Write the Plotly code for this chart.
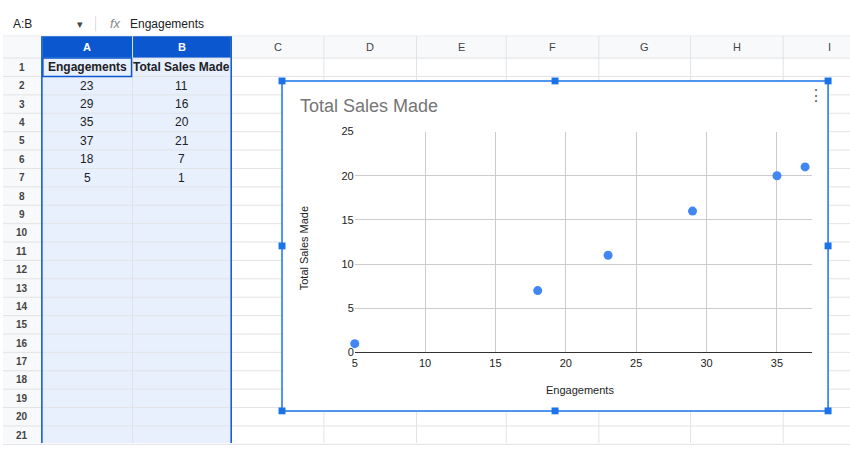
import plotly.graph_objects as go

engagements = [23, 29, 35, 37, 18, 5]
total_sales = [11, 16, 20, 21, 7, 1]
col_letters = ["A", "B", "C", "D", "E", "F", "G", "H", "I"]
header_a = "Engagements"
header_b = "Total Sales Made"

W, H = 850, 449
col_edges = [39, 130, 229, 322, 415, 505, 598, 690, 783, 876]
row_top, row_h = 53.5, 18.9
n_rows = 21


def px(x):
    return x / W


def py(y):
    return 1 - y / H


shapes = []
ann = []


def rect(x0, y0, x1, y1, fill, line=None, width=1, layer="below"):
    shapes.append(dict(type="rect", xref="paper", yref="paper", x0=px(x0), x1=px(x1),
                       y0=py(y1), y1=py(y0), fillcolor=fill, layer=layer,
                       line=dict(color=line or fill, width=width if line else 0)))


def line(x0, y0, x1, y1, color, width=1, layer="below"):
    shapes.append(dict(type="line", xref="paper", yref="paper", x0=px(x0), x1=px(x1),
                       y0=py(y0), y1=py(y1), layer=layer, line=dict(color=color, width=width)))


def text(x, y, s, size=12, color="#202124", anchor="center", bold=False, angle=0):
    ann.append(dict(xref="paper", yref="paper", x=px(x), y=py(y), text=f"<b>{s}</b>" if bold else s,
                    showarrow=False, xanchor=anchor, yanchor="middle", textangle=angle,
                    font=dict(size=size, color=color, family="Arial, Liberation Sans")))


# formula bar
rect(0, 0, W, 31, "white")
line(0, 31, W, 31, "#dadce0")
text(8, 18, "A:B", 12, anchor="left")
text(77, 18, "▾", 11, "#444")
line(93, 10, 93, 26, "#dadce0")
text(105, 18, "<i>fx</i>", 13, "#888", anchor="left")
text(125, 18, header_a, 12, anchor="left")

# header row and row numbers
rect(0, 31, W, row_top, "#f8f9fa")
rect(0, row_top, 39, H, "#f8f9fa")
rect(39, 31, 229, row_top, "#0b57d0")
rect(39, row_top, 229, H, "#e8f0fe")
for i, c in enumerate(col_letters):
    x0, x1 = col_edges[i], col_edges[i + 1]
    text((x0 + x1) / 2 if i < 8 else 829, 42, c, 11, "white" if i < 2 else "#444", bold=i < 2)
for xe in col_edges[:-1]:
    line(xe, 31, xe, H, "#e1e3e6")
for r in range(n_rows + 1):
    y = row_top + r * row_h
    line(0, y, W, y, "#e1e3e6")
for r in range(n_rows):
    text(19, row_top + (r + 0.5) * row_h, str(r + 1), 10, "#444", bold=True)
line(39, 31, 39, H, "#0b57d0", 1.5)
line(229, 31, 229, H, "#0b57d0", 1.5)
rect(40, row_top, 129, row_top + row_h, "rgba(0,0,0,0)", "#0b57d0", 1.5)

# cell contents
text(84.5, row_top + row_h / 2, header_a, 12, bold=True)
text(179.5, row_top + row_h / 2, header_b, 12, bold=True)
for r, (a, b) in enumerate(zip(engagements, total_sales)):
    yc = row_top + (r + 1.5) * row_h
    text(84.5, yc, str(a), 12)
    text(179.5, yc, str(b), 12)

# chart box
rect(280, 77, 828, 416, "white")
shapes.append(dict(type="rect", xref="paper", yref="paper", x0=px(280), x1=px(828), y0=py(416), y1=py(77),
                   line=dict(color="#1a73e8", width=1.5), layer="above"))
for hx in (280, 554, 828):
    for hy in (77, 246.5, 416):
        if hx == 554 and hy == 246.5:
            continue
        rect(hx - 3.5, hy - 3.5, hx + 3.5, hy + 3.5, "#1a73e8", layer="above")
text(296, 103, header_b, 18, "#757575", anchor="left")
text(816, 92, "⋮", 16, "#666")
text(579, 395, header_a, 11, "#222")
text(302, 249, header_b, 11, "#222", angle=-90)

fig = go.Figure(go.Scatter(x=engagements, y=total_sales, mode="markers", cliponaxis=False,
                           marker=dict(color="#4285f4", size=9)))
fig.update_layout(
    width=W, height=H, margin=dict(l=0, r=0, t=0, b=0), showlegend=False,
    paper_bgcolor="white", plot_bgcolor="rgba(0,0,0,0)", shapes=shapes, annotations=ann,
    xaxis=dict(domain=[px(353), px(812)], range=[5, 37.5], tickvals=[5, 10, 15, 20, 25, 30, 35],
               showgrid=True, gridcolor="#cccccc", zeroline=False, showline=True, linecolor="#333",
               tickfont=dict(size=11, color="#222", family="Arial, Liberation Sans")),
    yaxis=dict(domain=[py(356), py(129)], range=[0, 25], dtick=5, showgrid=True, gridcolor="#cccccc",
               zeroline=False, ticks="", ticklen=6, tickcolor="rgba(0,0,0,0)",
               tickfont=dict(size=11, color="#222", family="Arial, Liberation Sans")),
    font=dict(family="Arial, Liberation Sans"),
)
fig.write_html("out.html", config={"displayModeBar": False},
               post_script="document.body.style.margin='0';document.body.style.overflow='hidden';")
